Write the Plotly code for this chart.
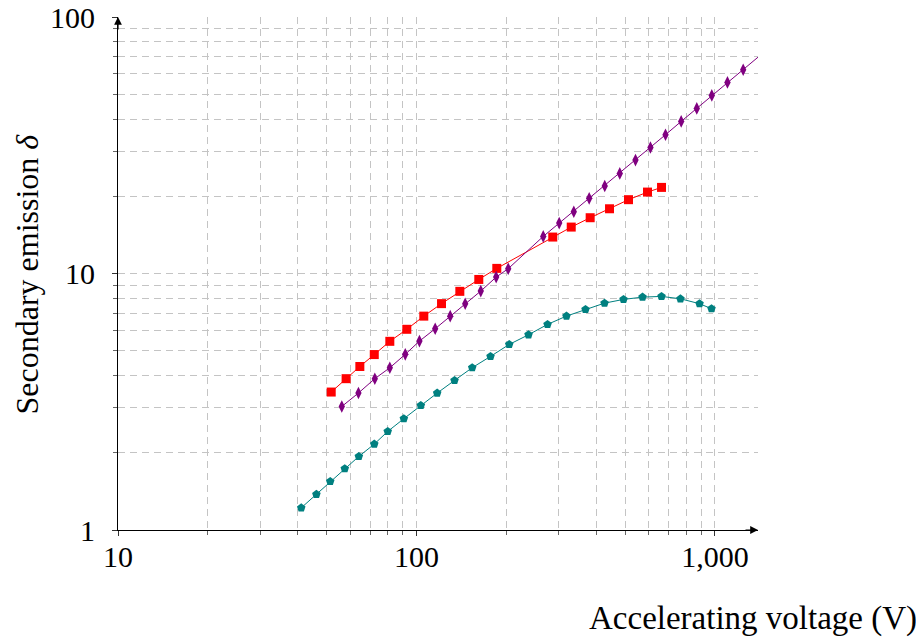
import plotly.graph_objects as go

# --- data ---
red_x = [51.8, 58.1, 64.6, 72.2, 81.4, 92.8, 105.8, 121.3, 139.7, 161.7, 185.8,
         286.1, 329.9, 381.8, 443.3, 513.2, 594.1, 662.1]
red_y = [3.45, 3.89, 4.34, 4.83, 5.44, 6.06, 6.82, 7.63, 8.52, 9.48, 10.47,
         13.87, 15.17, 16.5, 17.88, 19.4, 20.77, 21.66]

purple_x = [56.2, 63.9, 72.5, 81.4, 91.7, 102.3, 115.5, 129.7, 145.6, 164.2, 184.9, 202.9,
            265.8, 300.7, 336.5, 378.9, 427.3, 479.8, 541.6, 607.9, 682.8, 770.5, 869.0,
            975.7, 1101.0, 1243.0, 1500.0]
purple_y = [3.03, 3.42, 3.89, 4.29, 4.84, 5.45, 6.09, 6.82, 7.62, 8.54, 9.68, 10.44,
            13.95, 15.72, 17.41, 19.63, 21.92, 24.56, 27.68, 31.0, 34.76, 39.17, 44.03,
            49.47, 55.6, 62.3, 74.9]

teal_x = [41.1, 46.2, 51.4, 57.5, 64.1, 72.2, 80.1, 90.7, 103.4, 117.3, 134.1, 153.7,
          177.0, 204.5, 237.3, 274.8, 318.0, 368.3, 426.5, 493.8, 571.8, 662.0, 766.0,
          887.6, 973.4]
teal_y = [1.22, 1.377, 1.547, 1.734, 1.936, 2.162, 2.423, 2.716, 3.06, 3.418, 3.83, 4.293,
          4.751, 5.29, 5.77, 6.333, 6.823, 7.244, 7.664, 7.925, 8.09, 8.14, 7.97,
          7.625, 7.29]

x_tick_vals = [10, 100, 1000]
x_tick_text = ["10", "100", "1,000"]
y_tick_vals = [1, 10, 100]
y_tick_text = ["1", "10", "100"]
x_minor_vals = [20, 30, 40, 50, 60, 70, 80, 90, 200, 300, 400, 500, 600, 700, 800, 900]
y_minor_vals = [2, 3, 4, 5, 6, 7, 8, 9, 20, 30, 40, 50, 60, 70, 80, 90]

x_title = "Accelerating voltage (V)"
y_title = "Secondary emission <i>δ</i>"

FONT = "Liberation Serif"
GRID = "#c4c4c4"
DASH = "7px,5px"

fig = go.Figure()

fig.add_trace(go.Scatter(
    x=red_x, y=red_y, mode="lines+markers",
    line=dict(color="#ff0000", width=1),
    marker=dict(symbol="square", size=9, color="#ff0000", line=dict(width=0)),
    showlegend=False))
fig.add_trace(go.Scatter(
    x=purple_x, y=purple_y, mode="lines+markers",
    line=dict(color="#800080", width=1),
    marker=dict(symbol="diamond-tall", size=9, color="#800080", line=dict(width=0)),
    showlegend=False))
fig.add_trace(go.Scatter(
    x=teal_x, y=teal_y, mode="lines+markers",
    line=dict(color="#008080", width=1),
    marker=dict(symbol="pentagon", size=9, color="#008080", line=dict(width=0)),
    showlegend=False))

axis_common = dict(
    showline=True, linecolor="black", linewidth=1.2,
    ticks="outside", ticklen=5, tickcolor="#333333", tickwidth=1,
    showgrid=True, gridcolor=GRID, griddash=DASH, gridwidth=1,
    zeroline=False, automargin=False, ticklabeloverflow="allow",
    tickfont=dict(family=FONT, size=30, color="black"),
)

fig.update_xaxes(
    type="log", range=[1, 3.1441],
    tickmode="array", tickvals=x_tick_vals, ticktext=x_tick_text,
    ticklabelstandoff=-5,
    minor=dict(tickmode="array", tickvals=x_minor_vals, ticks="outside", ticklen=4,
               tickcolor="#666666", showgrid=True, gridcolor=GRID,
               griddash=DASH, gridwidth=1),
    **axis_common)
fig.update_yaxes(
    type="log", range=[0, 2],
    tickmode="array", tickvals=y_tick_vals, ticktext=y_tick_text,
    ticklabelstandoff=11,
    minor=dict(tickmode="array", tickvals=y_minor_vals, ticks="outside", ticklen=4,
               tickcolor="#666666", showgrid=True, gridcolor=GRID,
               griddash=DASH, gridwidth=1),
    **axis_common)

annotations = [
    # axis arrows
    dict(xref="paper", yref="paper", x=1.0, y=0.0, ax=-14, ay=0, axref="pixel", ayref="pixel",
         text="", showarrow=True, arrowhead=2, arrowsize=1.3, arrowwidth=1.2, arrowcolor="black"),
    dict(xref="paper", yref="paper", x=0.0, y=1.0, ax=0, ay=14, axref="pixel", ayref="pixel",
         text="", showarrow=True, arrowhead=2, arrowsize=1.3, arrowwidth=1.2, arrowcolor="black"),
    # titles
    dict(xref="paper", yref="paper", x=0.9923, y=-0.172, xanchor="center", yanchor="middle",
         text=x_title, showarrow=False, font=dict(family=FONT, size=33, color="black")),
    dict(xref="paper", yref="paper", x=-0.1422, y=0.5, xanchor="center", yanchor="middle",
         text=y_title, textangle=-90, showarrow=False,
         font=dict(family=FONT, size=32, color="black")),
]

# page body has an 8px default margin, so the figure is offset by 8px
fig.update_layout(
    width=924, height=639,
    margin=dict(l=110, r=174, t=9, b=117, pad=0),
    paper_bgcolor="white", plot_bgcolor="white",
    annotations=annotations,
    showlegend=False,
)

fig.write_html("out.html")
